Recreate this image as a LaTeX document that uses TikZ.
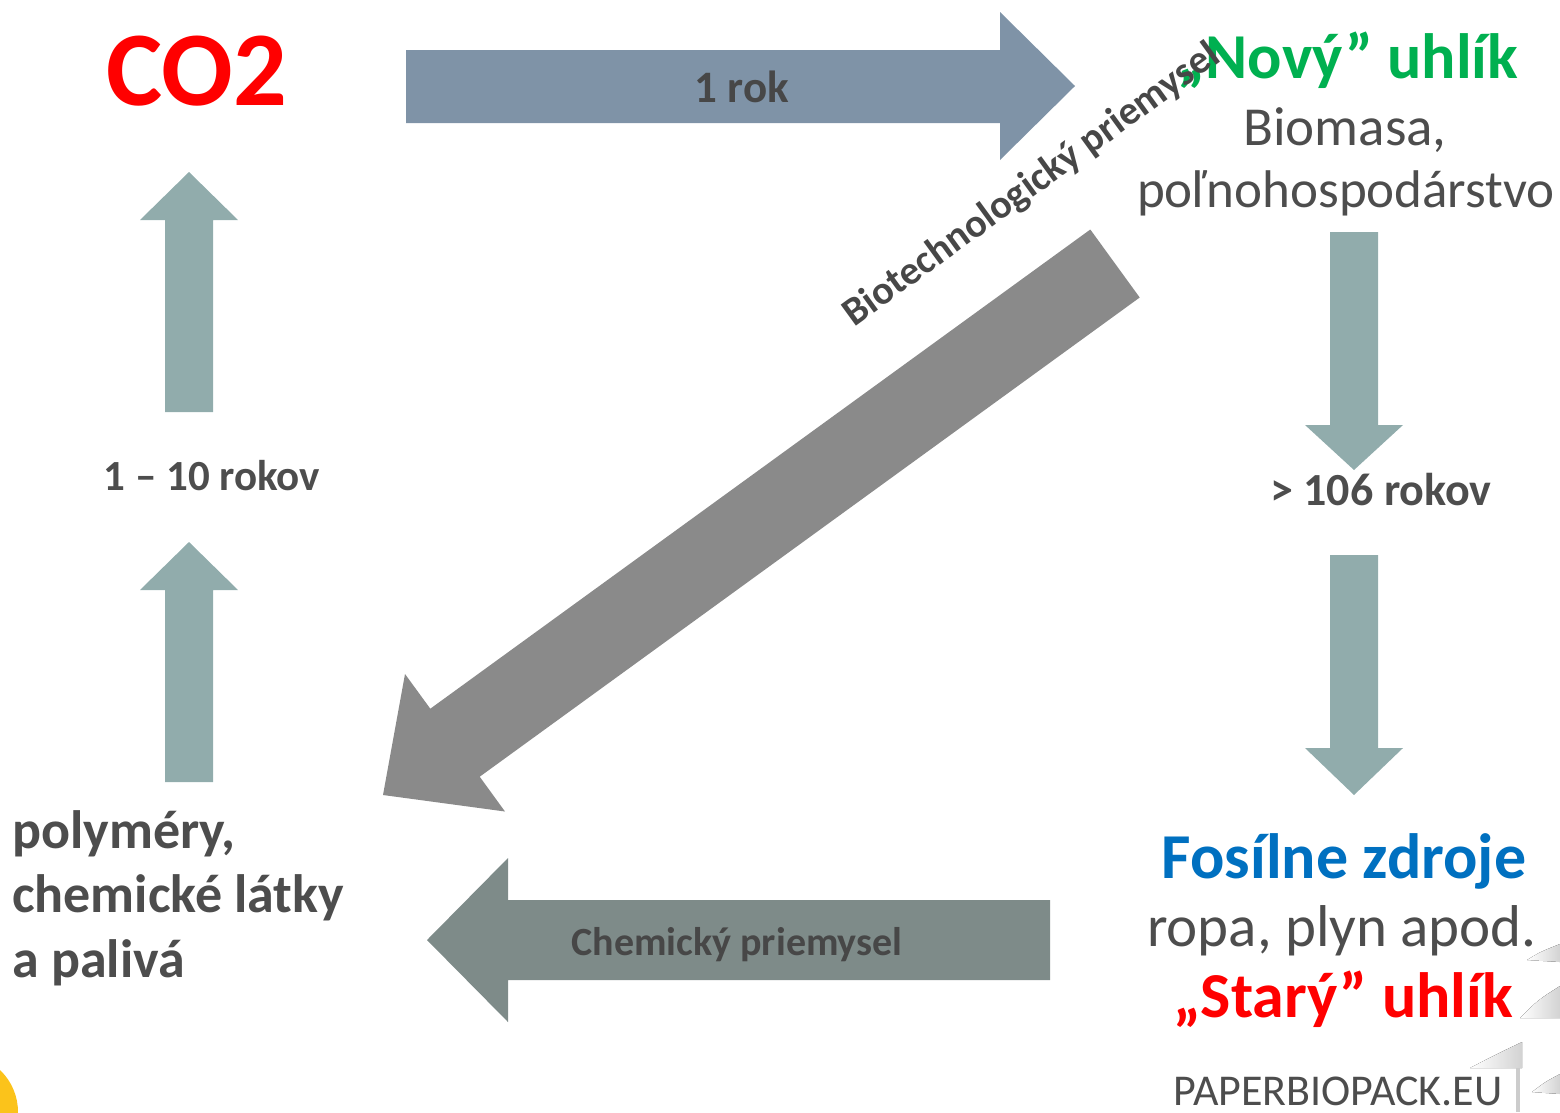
\documentclass[tikz,border=0pt]{standalone}
\usepackage{fontspec}
\setmainfont{Carlito}
\usetikzlibrary{positioning}
\definecolor{ink}{HTML}{4D4D4D}
\definecolor{arrowink}{HTML}{474747}
\definecolor{yearblue}{HTML}{7F93A7}
\definecolor{stemgray}{HTML}{91ACAC}
\definecolor{biogray}{HTML}{8A8A8A}
\definecolor{chemgray}{HTML}{7E8B89}
\definecolor{newgreen}{HTML}{00B050}
\definecolor{fossilblue}{HTML}{0070C0}
\definecolor{carbred}{HTML}{FF0000}
\definecolor{sunny}{HTML}{FBC31B}

\begin{document}
\begin{tikzpicture}[x=1pt, y=-1pt,
    every node/.style={inner sep=0pt, text=ink},
    headline/.style={font=\bfseries\fontsize{64}{64}\selectfont, anchor=base},
    plainline/.style={font=\fontsize{55}{55}\selectfont, anchor=base},
    span/.style={font=\bfseries\fontsize{43}{43}\selectfont, anchor=base},
    onarrow/.style={font=\bfseries\fontsize{40}{40}\selectfont, text=arrowink, anchor=base},
    product/.style={font=\bfseries\fontsize{54}{54}\selectfont, anchor=base west},
    yearflow/.style={fill=yearblue},
    stemflow/.style={fill=stemgray},
    bioflow/.style={fill=biogray},
    chemflow/.style={fill=chemgray},
    swoosh/.style={left color=white, right color=gray!35}
]
\useasboundingbox (0,0) rectangle (1560,1112);

% --- Block arrows of the cycle ---
\fill[yearflow] (406,50) -- (1000,50) -- (1000,12) -- (1075,86) -- (1000,160)
    -- (1000,123) -- (406,123) -- cycle;
\fill[stemflow] (1330,232) -- (1378,232) -- (1378,425) -- (1403,425) -- (1354,470)
    -- (1305,425) -- (1330,425) -- cycle;
\fill[stemflow] (1330,555) -- (1378,555) -- (1378,748) -- (1403,748) -- (1354,795)
    -- (1305,748) -- (1330,748) -- cycle;
\fill[stemflow] (165,782) -- (165,590) -- (140,590) -- (189,542) -- (238,590)
    -- (213,590) -- (213,782) -- cycle;
\fill[stemflow] (165,412) -- (165,220) -- (140,220) -- (189,172) -- (238,220)
    -- (213,220) -- (213,412) -- cycle;
\fill[chemflow] (1050,900) -- (508,900) -- (508,858) -- (427,940) -- (508,1022)
    -- (508,980) -- (1050,980) -- cycle;
\fill[bioflow] (1090.3,229.5) -- (430.3,708.7) -- (405,674) -- (383,795)
    -- (505,811.5) -- (479.7,776.7) -- (1139.7,297.5) -- cycle;

% --- Corner decorations ---
\begin{scope}
\clip (0,0) rectangle (1560,1112);
\fill[sunny] (-40,1112) circle (58);
\end{scope}
\fill[swoosh] (1527,960) .. controls (1540,952) .. (1560,944) -- (1560,962) -- cycle;
\fill[swoosh] (1520,1018) .. controls (1538,1000) .. (1560,986) -- (1560,1018) -- cycle;
\fill[swoosh] (1470,1068) .. controls (1495,1055) .. (1522,1042) -- (1522,1068) -- cycle;
\fill[gray!40] (1516,1068) rectangle (1520,1112);
\fill[swoosh] (1532,1092) .. controls (1545,1082) .. (1560,1074) -- (1560,1094) -- cycle;

% --- Carbon pools ---
\node[font=\bfseries\fontsize{106}{106}\selectfont, text=carbred, anchor=base]
    (co2) at (197,105) {CO2};
\node[headline, text=newgreen] (novy) at (1348,78) {„Nový” uhlík};
\node[plainline] (biomasa) at (1345,145) {Biomasa,};
\node[plainline, font=\fontsize{53}{53}\selectfont] (polno) at (1346,207) {poľnohospodárstvo};
\node[headline, text=fossilblue] (fosil) at (1344,878) {Fosílne zdroje};
\node[plainline, font=\fontsize{59}{59}\selectfont] (ropa) at (1342,946) {ropa, plyn apod.};
\node[headline, text=carbred] (stary) at (1343,1017) {„Starý” uhlík};
\node[product] (poly1) at (12,848) {polyméry,};
\node[product] (poly2) at (12,912) {chemické látky};
\node[product] (poly3) at (12,977) {a palivá};

% --- Time spans and industries ---
\node[onarrow, font=\bfseries\fontsize{45}{45}\selectfont] (rok) at (742,102) {1 rok};
\node[span, font=\bfseries\fontsize{46}{46}\selectfont] (milion) at (1381,505) {> 106 rokov};
\node[span] (desat) at (212,490) {1 – 10 rokov};
\node[onarrow] (chem) at (737,955) {Chemický priemysel};
\node[onarrow, rotate=36] (biotech) at (1038,194) {Biotechnologický priemysel};

\node[font=\fontsize{44}{44}\selectfont, anchor=base] (web) at (1338,1105) {PAPERBIOPACK.EU};
\end{tikzpicture}
\end{document}
